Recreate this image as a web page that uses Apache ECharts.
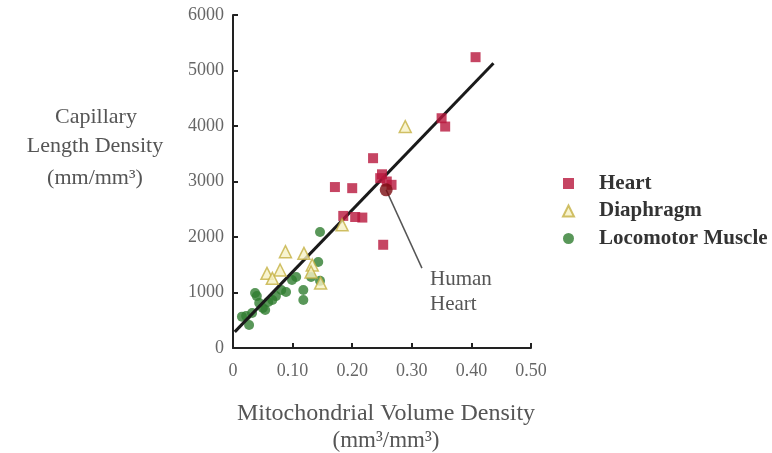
<!DOCTYPE html>
<html><head><meta charset="utf-8">
<script src="https://cdn.jsdelivr.net/npm/echarts@6/dist/echarts.min.js"></script>
<style>html,body{margin:0;padding:0;background:#fff}#c{width:772px;height:453px}</style>
</head><body><div id="c"></div>
<script>
// Data
var heartPts = [
  [0.171, 2900], [0.200, 2880], [0.235, 3420], [0.247, 3060], [0.250, 3130],
  [0.258, 3000], [0.266, 2940], [0.185, 2380], [0.205, 2360], [0.217, 2350],
  [0.252, 1860], [0.350, 4140], [0.356, 3990], [0.407, 5240]
];
var diaphragmPts = [
  [0.289, 3990], [0.183, 2220], [0.088, 1735], [0.119, 1705], [0.057, 1345],
  [0.079, 1405], [0.066, 1255], [0.133, 1495], [0.131, 1370], [0.147, 1170]
];
var locomotorPts = [
  [0.022, 575], [0.027, 415], [0.032, 630], [0.040, 935], [0.044, 810],
  [0.050, 720], [0.054, 685], [0.059, 830], [0.066, 865], [0.072, 935],
  [0.081, 1045], [0.089, 1010], [0.099, 1225], [0.106, 1280], [0.118, 1045],
  [0.118, 865], [0.131, 1280], [0.143, 1550], [0.146, 1210], [0.146, 2090],
  [0.015, 565], [0.037, 990]
];
var humanHeart = [[0.257, 2850]];
var fitLine = [[0.003, 290], [0.437, 5130]];
var pointerLine = [[0.257, 2850], [0.317, 1440]];
var xTicks = ['0', '0.10', '0.20', '0.30', '0.40', '0.50'];
var yTicks = ['0', '1000', '2000', '3000', '4000', '5000', '6000'];
var seriesNames = ['Heart', 'Diaphragm', 'Locomotor Muscle'];

var serif = '"Liberation Serif", "DejaVu Serif", serif';
var chart = echarts.init(document.getElementById('c'));
chart.setOption({
  backgroundColor: '#fff',
  animation: false,
  grid: { left: 233, right: 241, top: 15, bottom: 105 },
  xAxis: {
    type: 'value', min: 0, max: 0.5, interval: 0.1,
    axisLine: { show: true, lineStyle: { color: '#222', width: 2 } },
    axisTick: { show: true, inside: true, length: 5, lineStyle: { color: '#222', width: 2 } },
    splitLine: { show: false },
    axisLabel: { color: '#666', fontFamily: serif, fontSize: 18, margin: 14,
      formatter: function (v) { return xTicks[Math.round(v * 10)]; } }
  },
  yAxis: {
    type: 'value', min: 0, max: 6000, interval: 1000,
    axisLine: { show: true, lineStyle: { color: '#222', width: 2 } },
    axisTick: { show: true, inside: true, length: 5, lineStyle: { color: '#222', width: 2 } },
    splitLine: { show: false },
    axisLabel: { color: '#666', fontFamily: serif, fontSize: 18, margin: 9,
      formatter: function (v) { return yTicks[Math.round(v / 1000)]; } }
  },
  legend: {
    orient: 'vertical', left: 557, top: 168, itemGap: 6.5,
    itemWidth: 11, itemHeight: 11,
    textStyle: { color: '#333', fontFamily: serif, fontSize: 21, fontWeight: 'bold', padding: [0, 0, 0, 20] },
    data: seriesNames
  },
  series: [
    { type: 'line', data: fitLine, symbol: 'none', silent: true,
      lineStyle: { color: '#1a1a1a', width: 3 }, z: 3 },
    { type: 'line', data: pointerLine, symbol: 'none', silent: true,
      lineStyle: { color: '#555', width: 1.5 }, z: 3 },
    { name: seriesNames[0], type: 'scatter', data: heartPts, symbol: 'rect', symbolSize: 10,
      itemStyle: { color: '#b8163c' }, z: 4 },
    { name: seriesNames[1], type: 'scatter', data: diaphragmPts, symbol: 'triangle', symbolSize: 12,
      itemStyle: { color: '#f6f1c4', borderColor: '#c4b042', borderWidth: 1.5 }, z: 4 },
    { name: seriesNames[2], type: 'scatter', data: locomotorPts, symbol: 'circle', symbolSize: 10,
      itemStyle: { color: '#2f7d2f' }, z: 2 },
    { type: 'scatter', data: humanHeart, symbol: 'circle', symbolSize: 13,
      itemStyle: { color: '#7a0d12' }, z: 5 }
  ],
  graphic: [
    { type: 'text', x: 96, y: 117, style: { text: 'Capillary', fill: '#555', font: '22px ' + serif, textAlign: 'center', textVerticalAlign: 'middle' } },
    { type: 'text', x: 95, y: 146, style: { text: 'Length Density', fill: '#555', font: '22px ' + serif, textAlign: 'center', textVerticalAlign: 'middle' } },
    { type: 'text', x: 95, y: 178, style: { text: '(mm/mm³)', fill: '#555', font: '22px ' + serif, textAlign: 'center', textVerticalAlign: 'middle' } },
    { type: 'text', x: 386, y: 414, style: { text: 'Mitochondrial Volume Density', fill: '#555', font: '24px ' + serif, textAlign: 'center', textVerticalAlign: 'middle' } },
    { type: 'text', x: 386, y: 441, style: { text: '(mm³/mm³)', fill: '#555', font: '23px ' + serif, textAlign: 'center', textVerticalAlign: 'middle' } },
    { type: 'text', x: 430, y: 279, style: { text: 'Human', fill: '#555', font: '21px ' + serif, textAlign: 'left', textVerticalAlign: 'middle' } },
    { type: 'text', x: 430, y: 304, style: { text: 'Heart', fill: '#555', font: '21px ' + serif, textAlign: 'left', textVerticalAlign: 'middle' } }
  ]
});
</script></body></html>
